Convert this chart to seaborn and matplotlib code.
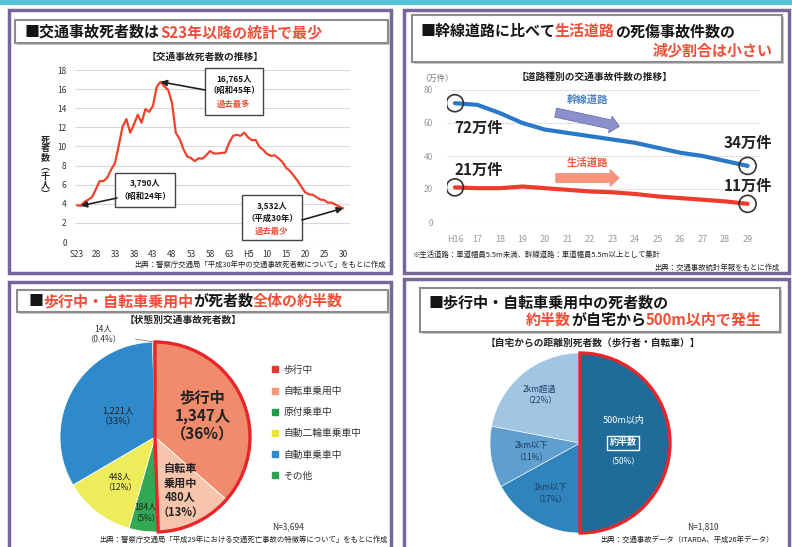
import numpy as np
import matplotlib
matplotlib.use("Agg")
import matplotlib.pyplot as plt
import seaborn as sns
import pandas as pd
from matplotlib.patches import Rectangle
from matplotlib.lines import Line2D

W, H = 792, 547

# --- 交通事故死者数の推移 (千人) ---
death_years = list(range(1948, 2019))
deaths_thousand = [3.848, 3.790, 4.202, 4.429, 4.696, 5.544, 6.374, 6.379, 6.751, 7.575,
                   8.248, 10.079, 12.055, 12.865, 11.445, 12.301, 13.318, 12.484, 13.904, 13.618,
                   14.256, 16.257, 16.765, 16.278, 15.918, 14.574, 11.432, 10.792, 9.734, 8.945,
                   8.783, 8.466, 8.760, 8.719, 9.073, 9.520, 9.262, 9.261, 9.317, 9.347,
                   10.344, 11.086, 11.227, 11.109, 11.452, 10.945, 10.653, 10.684, 9.943, 9.642,
                   9.214, 9.012, 9.073, 8.757, 8.396, 7.768, 7.436, 6.937, 6.415, 5.796,
                   5.209, 4.979, 4.948, 4.691, 4.438, 4.388, 4.113, 4.117, 3.904, 3.694, 3.532]
death_tick_years = list(range(1948, 2019, 5))
death_tick_labels = ["S23", "28", "33", "38", "43", "48", "53", "58", "63",
                     "H5", "10", "15", "20", "25", "30"]

# --- 道路種別の交通事故件数 (万件) ---
road_years = ["H16", "17", "18", "19", "20", "21", "22", "23", "24", "25", "26", "27", "28", "29"]
arterial = [72, 71, 66, 60, 56, 54, 52, 50, 48, 45, 42, 40, 37, 34]
living = [21, 20.5, 20.5, 21.5, 20.5, 19.5, 18.5, 18, 17, 15.5, 14.5, 13.5, 12.5, 11]

# --- 状態別交通事故死者数 ---
status_labels = ["歩行中", "自転車乗用中", "原付乗車中", "自動二輪車乗車中", "自動車乗車中", "その他"]
status_deaths = [1347, 480, 184, 448, 1221, 14]
status_colors = ["#F08B6B", "#F7C4AC", "#33A853", "#EDEC5A", "#2F8ACB", "#2E9E50"]
legend_colors = ["#E53A2B", "#F4977A", "#1F9E45", "#E8E633", "#2E8BCB", "#2FA050"]

# --- 自宅からの距離別死者数 ---
dist_labels = ["500m以内", "1km以下", "2km以下", "2km超過"]
dist_pct = [50, 17, 11, 22]
dist_total = 1810
dist_colors = ["#1F6C9B", "#2F84BE", "#5F9FCF", "#A1C6E4"]

RED = "#F04E37"
INK = "#151515"

sns.set_theme(style="white")
plt.rcParams["font.family"] = ["Noto Sans CJK JP", "DejaVu Sans"]
plt.rcParams["axes.unicode_minus"] = False

fig = plt.figure(figsize=(W / 100, H / 100), dpi=100)
fig.patch.set_facecolor("white")
bg = fig.add_axes([0, 0, 1, 1])
bg.set_xlim(0, W)
bg.set_ylim(H, 0)
bg.axis("off")
renderer = fig.canvas.get_renderer()


def box(x0, y0, x1, y1):
    return [x0 / W, 1 - y1 / H, (x1 - x0) / W, (y1 - y0) / H]


def fp(x, y):
    return (x, H - y)


def rich(x, y, parts, size=10.8, ha="left"):
    texts, widths = [], []
    for s, c in parts:
        t = bg.text(0, y, s, color=c, fontsize=size, fontweight="bold", va="center", ha="left")
        texts.append(t)
        widths.append(t.get_window_extent(renderer).width)
    x0 = x - sum(widths) if ha == "right" else x
    for t, w in zip(texts, widths):
        t.set_x(x0)
        x0 += w


# top bar and panels
bg.add_patch(Rectangle((0, 0), W, 5, color="#55C3D8", lw=0))
for x0, y0, x1, y1 in [(9, 10, 391, 273), (404, 10, 789, 273), (9, 282, 391, 552), (404, 279, 789, 552)]:
    bg.add_patch(Rectangle((x0, y0), x1 - x0, y1 - y0, fc="white", ec="#75679A", lw=2.5))
for x0, y0, x1, y1 in [(15, 20, 388, 43), (412, 15, 782, 62), (17, 290, 388, 312), (420, 288, 780, 332)]:
    bg.add_patch(Rectangle((x0 + 1.5, y0 + 1.5), x1 - x0, y1 - y0, fc="#C8C8C8", ec="none"))
    bg.add_patch(Rectangle((x0, y0), x1 - x0, y1 - y0, fc="white", ec="#8C8C8C", lw=1.5))

rich(25, 32, [("■交通事故死者数は", INK), ("S23年以降の統計で最少", RED)])
rich(420, 31, [("■幹線道路に比べて", INK), ("生活道路", RED), ("の死傷事故件数の", INK)])
rich(773, 50, [("減少割合は小さい", RED)], ha="right")
rich(28, 301, [("■", INK), ("歩行中・自転車乗用中", RED), ("が死者数", INK), ("全体の約半数", RED)])
rich(428, 302, [("■歩行中・自転車乗用中の死者数の", INK)])
rich(762, 320, [("約半数", RED), ("が自宅から", INK), ("500m以内で発生", RED)], ha="right")

sub_kw = dict(fontsize=7, fontweight="bold", color="#222", ha="center", va="center")
bg.text(205, 57, "【交通事故死者数の推移】", **sub_kw)
bg.text(595, 77, "【道路種別の交通事故件数の推移】", **sub_kw)
bg.text(183, 320, "【状態別交通事故死者数】", **sub_kw)
bg.text(593, 343, "【自宅からの距離別死者数（歩行者・自転車）】", **sub_kw)

src_kw = dict(fontsize=5.3, color="#222", va="center")
bg.text(386, 265, "出典：警察庁交通局「平成30年中の交通事故死者数について」をもとに作成", ha="right", **src_kw)
bg.text(413, 255, "※生活道路：車道幅員5.5m未満、幹線道路：車道幅員5.5m以上として集計", ha="left", **src_kw)
bg.text(780, 268, "出典：交通事故統計年報をもとに作成", ha="right", **src_kw)
bg.text(388, 540, "出典：警察庁交通局「平成29年における交通死亡事故の特徴等について」をもとに作成", ha="right", **src_kw)
bg.text(600, 540, "出典：交通事故データ（ITARDA、平成26年データ）", ha="left", **src_kw)

# ---------------- panel 1: line ----------------
ax1 = fig.add_axes(box(75, 70, 350, 242))
ax1.patch.set_alpha(0)
df1 = pd.DataFrame({"year": death_years, "deaths": deaths_thousand})
sns.lineplot(data=df1, x="year", y="deaths", ax=ax1, color="#F0412A", lw=1.6, zorder=3)
ax1.set_xlim(1947.5, 2019.8)
ax1.set_ylim(0, 18)
ax1.set_yticks(range(0, 19, 2))
ax1.set_xticks(death_tick_years)
ax1.set_xticklabels(death_tick_labels)
ax1.grid(axis="y", color="#DADADA", lw=0.8)
for s in ax1.spines.values():
    s.set_visible(False)
ax1.tick_params(length=0, labelsize=6, colors="#333", pad=6)
ax1.set_xlabel("")
ax1.set_ylabel("")
bg.text(45, 167, "死\n者\n数\n︵\n千\n人\n︶", fontsize=6.5, fontweight="bold", color="#222",
        ha="center", va="center", linespacing=1.0)


def note_box(ax, x0, y0, x1, y1, lines):
    ax.add_patch(Rectangle((x0, y0), x1 - x0, y1 - y0, transform=bg.transData, fc="white",
                           ec="#444", lw=1.0, zorder=5, clip_on=False))
    for s, c, y in lines:
        ax.text((x0 + x1) / 2, y, s, transform=bg.transData, color=c, fontsize=6,
                fontweight="bold", ha="center", va="center", zorder=6, clip_on=False)


arrow_kw = dict(arrowstyle="-|>", color="#222", lw=1.2, mutation_scale=9, shrinkA=0, shrinkB=0)
peak_i = int(np.argmax(deaths_thousand))
ax1.annotate("", xy=(death_years[peak_i], deaths_thousand[peak_i]), xytext=fp(205, 90),
             textcoords="figure pixels", arrowprops=arrow_kw, zorder=6)
ax1.annotate("", xy=(death_years[1], deaths_thousand[1]), xytext=fp(117, 198),
             textcoords="figure pixels", arrowprops=arrow_kw, zorder=6)
ax1.annotate("", xy=(death_years[-1], deaths_thousand[-1]), xytext=fp(302, 220),
             textcoords="figure pixels", arrowprops=arrow_kw, zorder=6)
note_box(ax1, 205, 68, 263, 115, [("16,765人", INK, 79), ("（昭和45年）", INK, 91), ("過去最多", RED, 104)])
note_box(ax1, 115, 173, 175, 207, [("3,790人", INK, 183), ("（昭和24年）", INK, 197)])
note_box(ax1, 242, 195, 302, 240, [("3,532人", INK, 206), ("（平成30年）", INK, 218), ("過去最少", RED, 231)])

# ---------------- panel 2: line ----------------
ax2 = fig.add_axes(box(447, 90, 760, 222))
ax2.patch.set_alpha(0)
xs = list(range(len(road_years)))
df2 = pd.DataFrame({"x": xs, "arterial": arterial, "living": living})
sns.lineplot(data=df2, x="x", y="arterial", ax=ax2, color="#2A79C9", lw=3, zorder=3)
sns.lineplot(data=df2, x="x", y="living", ax=ax2, color="#EE3B2B", lw=3, zorder=3)
ax2.scatter([xs[0], xs[-1], xs[0], xs[-1]], [arterial[0], arterial[-1], living[0], living[-1]],
            s=150, facecolors="none", edgecolors="#333", lw=1.2, zorder=4)
ax2.set_xlim(-0.35, 13.55)
ax2.set_ylim(0, 80)
ax2.set_yticks(range(0, 81, 20))
ax2.set_xticks(xs)
ax2.set_xticklabels(road_years)
ax2.grid(axis="y", color="#E2E2E2", lw=0.8)
for s in ax2.spines.values():
    s.set_visible(False)
ax2.tick_params(length=0, labelsize=6.5, colors="#999", pad=9)
ax2.tick_params(axis="y", pad=10, labelsize=6)
ax2.set_xlabel("")
ax2.set_ylabel("")
bg.text(437, 78, "（万件）", fontsize=6, color="#777", ha="center", va="center")

val_kw = dict(textcoords="offset pixels", fontsize=11, fontweight="bold", color="#222",
              ha="center", va="center", zorder=5)
ax2.annotate(f"{arterial[0]}万件", xy=(xs[0], arterial[0]), xytext=(24, -25), **val_kw)
ax2.annotate(f"{living[0]}万件", xy=(xs[0], living[0]), xytext=(24, 17), **val_kw)
ax2.annotate(f"{arterial[-1]}万件", xy=(xs[-1], arterial[-1]), xytext=(0, 23), **val_kw)
ax2.annotate(f"{living[-1]}万件", xy=(xs[-1], living[-1]), xytext=(0, 18), **val_kw)

ax2.annotate("", xy=fp(622, 127), xytext=fp(553, 112), xycoords="figure pixels",
             textcoords="figure pixels",
             arrowprops=dict(arrowstyle="simple,head_length=0.6,head_width=1.1,tail_width=0.6",
                             fc="#8B8FCB", ec="#6A6FB0", lw=0.6, mutation_scale=11))
ax2.annotate("", xy=fp(622, 178), xytext=fp(553, 178), xycoords="figure pixels",
             textcoords="figure pixels",
             arrowprops=dict(arrowstyle="simple,head_length=0.6,head_width=1.1,tail_width=0.6",
                             fc="#F5937D", ec="#F5937D", lw=0.6, mutation_scale=11))
bg.text(587, 100, "幹線道路", fontsize=7.5, fontweight="bold", color="#4B82C9", ha="center", va="center")
bg.text(587, 163, "生活道路", fontsize=7.5, fontweight="bold", color="#F05A40", ha="center", va="center")


def wedge_xy(w, frac):
    ang = np.deg2rad((w.theta1 + w.theta2) / 2)
    return w.center[0] + frac * w.r * np.cos(ang), w.center[1] + frac * w.r * np.sin(ang)


# ---------------- panel 3: pie ----------------
cx, cy, R = 155, 437, 95
ax3 = fig.add_axes(box(cx - 1.2 * R, cy - 1.2 * R, cx + 1.2 * R, cy + 1.2 * R))
wedges3, _ = ax3.pie(status_deaths, colors=status_colors, startangle=90, counterclock=False,
                     wedgeprops=dict(ec="white", lw=0.6))
half3, _ = ax3.pie([status_deaths[0] + status_deaths[1], sum(status_deaths[2:])], startangle=90,
                   counterclock=False, colors=["none", "none"], wedgeprops=dict(lw=0))
half3[0].set_edgecolor("#E8262A")
half3[0].set_linewidth(2.4)
ax3.set_xlim(-1.2, 1.2)
ax3.set_ylim(-1.2, 1.2)
total3 = sum(status_deaths)
pcts = [round(v / total3 * 100) for v in status_deaths]
spec3 = [(0.55, 11, "bold", f"歩行中\n{status_deaths[0]:,}人\n（{pcts[0]}%）"),
         (0.62, 8, "bold", f"自転車\n乗用中\n{status_deaths[1]}人\n（{pcts[1]}%）"),
         (0.8, 6, "normal", f"{status_deaths[2]}人\n（{pcts[2]}%）"),
         (0.6, 6, "normal", f"{status_deaths[3]}人\n（{pcts[3]}%）"),
         (0.45, 6.5, "normal", f"{status_deaths[4]:,}人\n（{pcts[4]}%）")]
for w, (frac, size, weight, txt) in zip(wedges3, spec3):
    x, y = wedge_xy(w, frac)
    ax3.text(x, y, txt, fontsize=size, fontweight=weight, color="#222", ha="center",
             va="center", linespacing=1.15)
ox, oy = wedge_xy(wedges3[5], 1.0)
ax3.annotate(f"{status_deaths[5]}人\n（{status_deaths[5] / total3 * 100:.1f}%）", xy=(ox, oy),
             xytext=fp(103, 334), textcoords="figure pixels", fontsize=6, color="#333",
             ha="center", va="center", annotation_clip=False,
             arrowprops=dict(arrowstyle="-", color="#888", lw=0.6, shrinkA=8, shrinkB=0))
handles = [Line2D([], [], marker="s", ls="", color=c, markersize=4.5) for c in legend_colors]
fig.legend(handles, status_labels, loc="upper left", bbox_to_anchor=(266 / W, 1 - 360 / H),
           frameon=False, fontsize=7, labelspacing=1.15, handlelength=0.8, handletextpad=0.5,
           borderpad=0, labelcolor="#333")
bg.text(288, 527, f"N={total3:,}", fontsize=6, color="#333", ha="center", va="center")

# ---------------- panel 4: pie ----------------
cx, cy, R = 580, 443, 90
ax4 = fig.add_axes(box(cx - 1.2 * R, cy - 1.2 * R, cx + 1.2 * R, cy + 1.2 * R))
wedges4, _ = ax4.pie(dist_pct, colors=dist_colors, startangle=90, counterclock=False,
                     wedgeprops=dict(ec="white", lw=0.4))
wedges4[0].set_edgecolor("#E8262A")
wedges4[0].set_linewidth(2.4)
wedges4[0].set_zorder(3)
ax4.set_xlim(-1.2, 1.2)
ax4.set_ylim(-1.2, 1.2)
x, y = wedge_xy(wedges4[0], 0.48)
ax4.text(x, y + 0.25, dist_labels[0], fontsize=6.5, color="white", ha="center", va="center", zorder=4)
ax4.text(x, y, "約半数", fontsize=6.5, fontweight="bold", color="white", ha="center", va="center",
         zorder=4, bbox=dict(boxstyle="square,pad=0.25", fc="none", ec="white", lw=1))
ax4.text(x, y - 0.2, f"（{dist_pct[0]}%）", fontsize=6, color="white", ha="center", va="center", zorder=4)
for w, lab, p, frac in zip(wedges4[1:], dist_labels[1:], dist_pct[1:], [0.65, 0.55, 0.7]):
    x, y = wedge_xy(w, frac)
    ax4.text(x, y, f"{lab}\n（{p}%）", fontsize=6, color="#1D3E60", ha="center", va="center",
             linespacing=1.3)
bg.text(703, 527, f"N={dist_total:,}", fontsize=6, color="#333", ha="center", va="center")

fig.savefig("out.png", dpi=100, facecolor="white")
